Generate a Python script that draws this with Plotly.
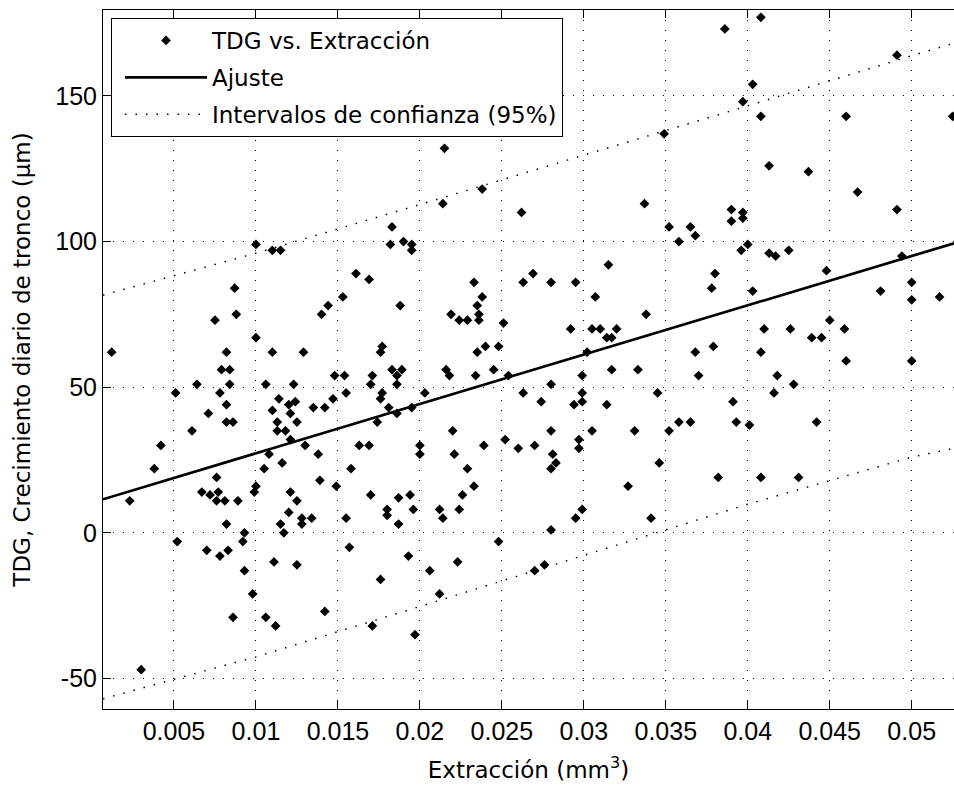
import plotly.graph_objects as go

# Datos: extracción (mm^3) frente a crecimiento diario de tronco (µm)
extraccion = [
    0.0012, 0.0023, 0.0030, 0.0038, 0.0042, 0.0051, 0.0052, 0.0061, 0.0064, 0.0067,
    0.0070, 0.0071, 0.0072, 0.0075, 0.0076, 0.0076, 0.0077, 0.0078, 0.0078, 0.0079,
    0.0081, 0.0082, 0.0082, 0.0082, 0.0082, 0.0083, 0.0084, 0.0084, 0.0086, 0.0086,
    0.0087, 0.0088, 0.0089, 0.0092, 0.0093, 0.0093, 0.0098, 0.0099, 0.0100, 0.0100,
    0.0100, 0.0105, 0.0106, 0.0106, 0.0108, 0.0110, 0.0110, 0.0110, 0.0111, 0.0112,
    0.0113, 0.0113, 0.0114, 0.0115, 0.0115, 0.0116, 0.0117, 0.0118, 0.0120, 0.0120,
    0.0121, 0.0121, 0.0121, 0.0123, 0.0124, 0.0125, 0.0125, 0.0125,
    0.0128, 0.0128, 0.0129, 0.0130, 0.0134, 0.0135, 0.0138, 0.0139, 0.0140, 0.0142,
    0.0142, 0.0144, 0.0147, 0.0148, 0.0149, 0.0153, 0.0154, 0.0155, 0.0155, 0.0157,
    0.0158, 0.0161, 0.0163, 0.0169, 0.0169, 0.0170, 0.0170, 0.0171, 0.0171, 0.0174,
    0.0176, 0.0176, 0.0176, 0.0177, 0.0177, 0.0180, 0.0180, 0.0181, 0.0182, 0.0183,
    0.0183, 0.0186, 0.0186, 0.0186, 0.0187, 0.0187, 0.0188, 0.0189, 0.0190, 0.0193,
    0.0194, 0.0195, 0.0195, 0.0195, 0.0196, 0.0197, 0.0200, 0.0200, 0.0203, 0.0206,
    0.0212, 0.0214, 0.0212, 0.0214, 0.0215, 0.0216, 0.0218, 0.0219, 0.0220, 0.0221,
    0.0223, 0.0224, 0.0224, 0.0226, 0.0229, 0.0229, 0.0233, 0.0233, 0.0234, 0.0235,
    0.0235, 0.0236, 0.0236, 0.0238, 0.0238, 0.0239, 0.0240, 0.0245, 0.0248, 0.0248,
    0.0251, 0.0252, 0.0254, 0.0260, 0.0262, 0.0263, 0.0263, 0.0269, 0.0270, 0.0270,
    0.0274, 0.0276, 0.0280, 0.0280, 0.0280, 0.0280, 0.0281, 0.0283, 0.0280, 0.0292,
    0.0294, 0.0295, 0.0295, 0.0297, 0.0297, 0.0299, 0.0299, 0.0299, 0.0299, 0.0302,
    0.0305, 0.0305, 0.0307, 0.0310, 0.0314, 0.0314, 0.0315, 0.0317, 0.0317, 0.0320,
    0.0408, 0.0386, 0.0491, 0.0403, 0.0397, 0.0349, 0.0408, 0.0460, 0.0525, 0.0413,
    0.0437, 0.0467, 0.0337, 0.0491, 0.0390, 0.0390, 0.0397, 0.0397, 0.0352, 0.0365,
    0.0368, 0.0358, 0.0400, 0.0396, 0.0413, 0.0417, 0.0425, 0.0448, 0.0380, 0.0378,
    0.0403, 0.0481, 0.0500, 0.0500, 0.0517, 0.0338, 0.0450, 0.0410, 0.0426, 0.0459,
    0.0439, 0.0445, 0.0368, 0.0379, 0.0408, 0.0460, 0.0500, 0.0333, 0.0370, 0.0418,
    0.0428, 0.0416, 0.0345, 0.0391, 0.0358, 0.0365, 0.0393, 0.0401, 0.0442, 0.0331,
    0.0352, 0.0346, 0.0382, 0.0408, 0.0431, 0.0327, 0.0341, 0.0494,
]
tdg = [
    62, 11, -47, 22, 30, 48, -3, 35, 51, 14,
    -6, 41, 13, 73, 19, 11, 14, 48, -8, 56,
    11, 62, 44, 38, 3, -6, 56, 51, -29, 38,
    84, 75, 11, -3, 0, -13, -21, 14, 16, 99,
    67, 22, 51, -29, 27, 62, 42, 97, -10, -32,
    35, 38, 46, 97, 3, 24, 0, 35, 44, 7,
    32, 14, 41, 51, 45, 38, 11, -11,
    5, 3, 62, 30, 5, 43, 27, 18, 75, 43,
    -27, 78, 46, 54, 16, 81, 54, 5, 48, -5,
    22, 89, 30, 87, 30, 51, 13, 54, -32, 38,
    62, 46, -16, 48, 64, 8, 6, 43, 99, 56,
    105, 41, 54, 51, 12, 3, 78, 56, 100, -8,
    13, 99, 97, 43, 8, -35, 30, 27, 48, -13,
    8, 5, -21, 113, 132, 56, 54, 75, 35, 27,
    -10, 73, 8, 13, 73, 22, 86, 16, 54, 62,
    78, 75, 73, 81, 118, 30, 64, 56, 64, -3,
    72, 32, 54, 29, 110, 86, 48, 89, 30, -13,
    45, -11, 1, 86, 51, 35, 27, 24, 22, 70,
    44, 86, 5, 32, 29, 54, 48, 45, 8, 62,
    70, 35, 81, 70, 67, 44, 92, 67, 56, 70,
    177, 173, 164, 154, 148, 137, 143, 143, 143, 126,
    124, 117, 113, 111, 111, 107, 110, 108, 105, 105,
    102, 100, 99, 97, 96, 95, 97, 90, 89, 84,
    83, 83, 86, 80, 81, 75, 73, 70, 70, 70,
    67, 67, 62, 64, 62, 59, 59, 56, 54, 54,
    51, 48, 48, 45, 38, 38, 38, 37, 38, 35,
    35, 24, 19, 19, 19, 16, 5, 95,
]

# Recta de ajuste (extremos)
ajuste_x = [0.00067, 0.05258]
ajuste_y = [11.5, 99.4]

# Intervalos de confianza al 95 %
ic_x = [0.00067, 0.01, 0.02, 0.03, 0.04, 0.05, 0.05258]
ic_sup = [81.6, 96.0, 112.7, 129.6, 146.6, 163.8, 168.1]
ic_inf = [-57.0, -42.6, -25.3, -7.7, 9.8, 26.0, 29.0]

x_ticks = [0.005, 0.01, 0.015, 0.02, 0.025, 0.03, 0.035, 0.04, 0.045, 0.05]
x_tick_text = ["0.005", "0.01", "0.015", "0.02", "0.025", "0.03", "0.035", "0.04", "0.045", "0.05"]
y_ticks = [-50, 0, 50, 100, 150]
y_tick_text = ["-50", "0", "50", "100", "150"]

TEXT_FONT = "DejaVu Sans, sans-serif"
TICK_FONT = "Arial, Liberation Sans, sans-serif"
DOTS = "1px,9px"

fig = go.Figure()

fig.add_trace(go.Scatter(
    x=extraccion, y=tdg, mode="markers", name="TDG vs. Extracción",
    marker=dict(symbol="diamond", size=7.5, color="black"),
    legendgroup="a",
))
fig.add_trace(go.Scatter(
    x=ajuste_x, y=ajuste_y, mode="lines", name="Ajuste",
    line=dict(color="black", width=2.7),
    legendgroup="b",
))
fig.add_trace(go.Scatter(
    x=ic_x, y=ic_sup, mode="lines", name="Intervalos de confianza (95%)",
    line=dict(color="black", width=1.5, dash="1.5px,9px"),
    legendgroup="c",
))
fig.add_trace(go.Scatter(
    x=ic_x, y=ic_inf, mode="lines", showlegend=False,
    line=dict(color="black", width=1.5, dash="1.5px,9px"),
    legendgroup="c",
))

fig.update_layout(
    width=954, height=788,
    margin=dict(l=103, r=0, t=10, b=79),
    paper_bgcolor="white", plot_bgcolor="white",
    font=dict(family=TEXT_FONT, size=23, color="black"),
    showlegend=True,
    legend=dict(
        x=0.0094, y=0.9886, xanchor="left", yanchor="top",
        bgcolor="white", bordercolor="black", borderwidth=1,
        font=dict(family=TEXT_FONT, size=23, color="black"),
        itemwidth=82, indentation=8, tracegroupgap=4, traceorder="grouped",
    ),
    xaxis=dict(
        range=[0.00067, 0.05258],
        tickvals=x_ticks, ticktext=x_tick_text,
        tickfont=dict(family=TICK_FONT, size=25),
        ticks="inside", ticklen=8, tickwidth=1, tickcolor="black",
        showline=True, linecolor="black", linewidth=1, mirror="ticks",
        showgrid=True, gridcolor="black", gridwidth=1, griddash=DOTS,
        zeroline=False,
        title=dict(text="Extracción (mm<sup>3</sup>)", font=dict(family=TEXT_FONT, size=23), standoff=17),
        automargin=False,
    ),
    yaxis=dict(
        range=[-60.5, 179.5],
        tickvals=y_ticks, ticktext=y_tick_text,
        tickfont=dict(family=TICK_FONT, size=25),
        ticks="inside", ticklen=8, tickwidth=1, tickcolor="black",
        showline=True, linecolor="black", linewidth=1, mirror=False,
        showgrid=True, gridcolor="black", gridwidth=1, griddash=DOTS,
        zeroline=False,
        title=dict(text="TDG, Crecimiento diario de tronco (µm)", font=dict(family=TEXT_FONT, size=23), standoff=18),
        automargin=False,
    ),
)

fig.write_html("out.html")
